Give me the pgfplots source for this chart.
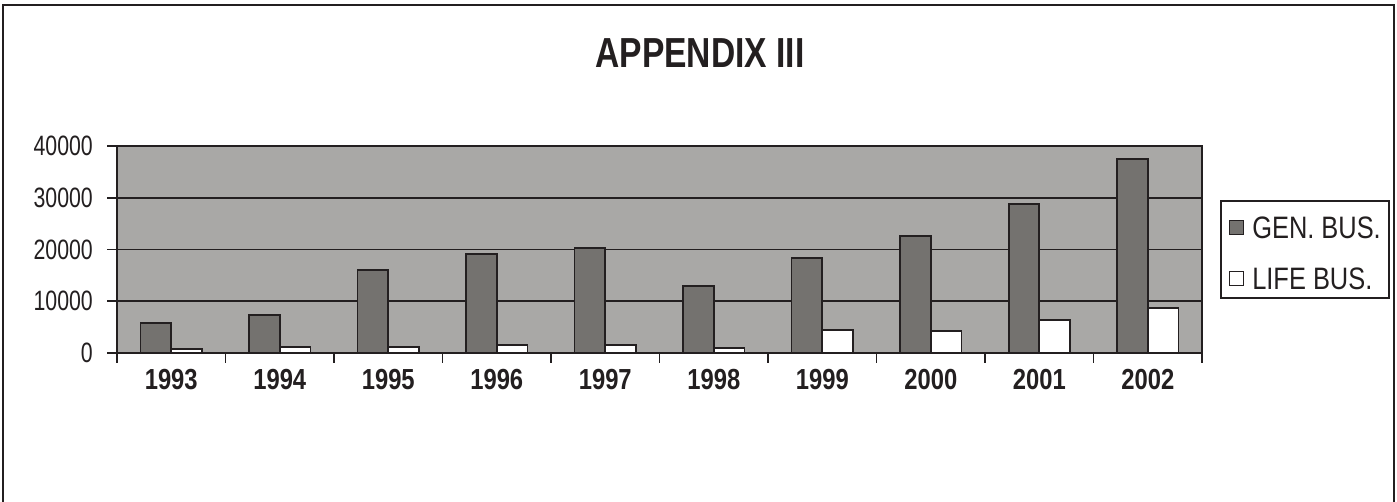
\documentclass[border=0pt]{standalone}
\usepackage{fontspec}
\setmainfont{Liberation Sans}[FakeStretch=0.82]
\newfontfamily\titlefont{Liberation Sans Bold}[FakeStretch=0.80]
\newfontfamily\tickfont{Liberation Sans}[FakeStretch=0.76]
\usepackage{pgfplots}
\pgfplotsset{compat=1.18}
\definecolor{bggray}{HTML}{A9A8A6}
\definecolor{bardark}{HTML}{74726F}
\definecolor{edge}{HTML}{231F20}
\begin{document}
\begin{tikzpicture}
\useasboundingbox (0pt,0pt) rectangle (1397pt,502pt);
\fill[white] (0pt,0pt) rectangle (1397pt,502pt);
\draw[edge, line width=2.5pt] (3pt,-5pt) -- (3pt,497pt) -- (1394pt,497pt) -- (1394pt,-5pt);
\node[font=\titlefont\fontsize{42}{48}\selectfont, text=edge] at (700pt,449pt) {APPENDIX III};
\begin{axis}[
  at={(117pt,149pt)}, anchor=south west,
  scale only axis, width=1085pt, height=207pt,
  xmin=-0.5, xmax=9.5, ymin=0, ymax=40000,
  axis background/.style={fill=bggray},
  axis line style={edge, line width=1.8pt},
  ybar=0pt, bar width=30.7pt,
  tick pos=left,
  xtick={-0.5,0.5,...,9.5},
  xticklabels={,,,,,,,,,,,},
  extra x ticks={0,...,9},
  extra x tick labels={1993,1994,1995,1996,1997,1998,1999,2000,2001,2002},
  extra x tick style={major tick length=0pt, xmajorgrids=false,
    tick style={draw=none},
    tick label style={font=\bfseries\fontsize{29}{34}\selectfont, text=edge, inner sep=0pt, anchor=north, yshift=-16pt}},
  ytick={0,10000,20000,30000,40000},
  scaled y ticks=false,
  tick align=outside,
  major tick length=10pt,
  tick style={edge, line width=1.8pt},
  ymajorgrids, grid style={edge, line width=1.8pt},
  xmajorgrids=false,
  y tick label style={font=\tickfont\fontsize{28}{33}\selectfont, text=edge, inner sep=0pt, anchor=east, xshift=-14pt},
  yticklabel={\pgfmathprintnumber[fixed, precision=0, set thousands separator={}, assume math mode=true]{\tick}},
  legend style={at={(axis description cs:1.020,0.725)}, anchor=north west,
    draw=none, fill=none, text=edge,
    inner xsep=5pt, inner ysep=12pt, row sep=24pt,
    nodes={inner sep=2pt, font=\fontsize{31}{36}\selectfont},
    /tikz/every odd column/.append style={column sep=6pt}},
  legend cell align=left,
  legend image code/.code={\draw[#1, line width=1.3pt] (2pt,-6pt) rectangle (16pt,8pt);},
  clip=false,
]
\addplot[fill=bardark, draw=edge, line width=1.8pt] coordinates {
(0,5730) (1,7280) (2,16040) (3,19130) (4,20290) (5,13010) (6,18420) (7,22540) (8,28790) (9,37550)};
\addplot[fill=white, draw=edge, line width=1.8pt] coordinates {
(0,710) (1,1095) (2,1095) (3,1480) (4,1480) (5,1030) (6,4510) (7,4190) (8,6440) (9,8760)};
\legend{GEN. BUS., LIFE BUS.}
\end{axis}
\draw[edge, line width=1.8pt] (1221pt,204pt) rectangle (1389pt,301pt);
\end{tikzpicture}
\end{document}
